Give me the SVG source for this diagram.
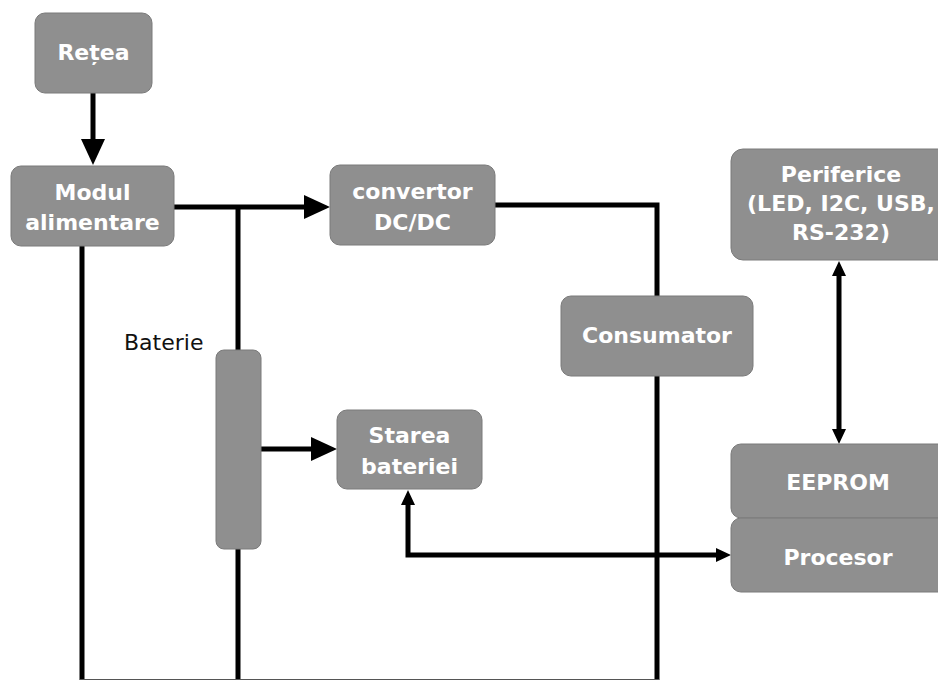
<svg xmlns="http://www.w3.org/2000/svg" width="938" height="680" viewBox="0 0 938 680">
  <style>
    .box { fill: #8f8f8f; stroke: #7a7a7a; stroke-width: 1; }
    .lbl { font-family: "DejaVu Sans", "Liberation Sans", sans-serif; font-weight: bold; font-size: 22px; fill: #ffffff; text-anchor: middle; }
    .plain { font-family: "DejaVu Sans", "Liberation Sans", sans-serif; font-size: 22px; fill: #111111; }
    .wire { fill: none; stroke: #000000; stroke-width: 5; stroke-linejoin: miter; }
    .thin { fill: none; stroke: #555555; stroke-width: 1; }
  </style>
  <defs>
    <marker id="big" markerUnits="userSpaceOnUse" markerWidth="28" markerHeight="26" refX="0" refY="12" orient="auto-start-reverse">
      <path d="M0,0 L26,12 L0,24 z" fill="#000"/>
    </marker>
    <marker id="small" markerUnits="userSpaceOnUse" markerWidth="17" markerHeight="15" refX="0" refY="7" orient="auto-start-reverse">
      <path d="M0,0 L15,7 L0,14 z" fill="#000"/>
    </marker>
  </defs>
  <rect width="938" height="680" fill="#ffffff"/>

  <!-- connectors -->
  <g id="connectors">
    <path class="wire" d="M93,93 V139" marker-end="url(#big)"/>
    <path class="wire" d="M174,207 H304" marker-end="url(#big)"/>
    <path class="wire" d="M238,207 V350"/>
    <path class="wire" d="M238,549 V680"/>
    <path class="wire" d="M82,246 V680"/>
    <path class="wire" d="M495,205 H657 V296"/>
    <path class="wire" d="M657,376 V680"/>
    <path class="wire" d="M261,449 H311" marker-end="url(#big)"/>
    <path class="wire" d="M408,505 V555 H716" marker-start="url(#small)" marker-end="url(#small)"/>
    <path class="wire" d="M839,276 V429" marker-start="url(#small)" marker-end="url(#small)"/>
    <path class="thin" d="M80,679.5 H659"/>
  </g>

  <g id="retea">
    <rect class="box" x="35" y="13" width="117" height="80" rx="10"/>
    <text class="lbl" x="93.5" y="60">Rețea</text>
  </g>

  <g id="modul-alimentare">
    <rect class="box" x="11" y="166" width="163" height="80" rx="10"/>
    <text class="lbl" x="92.5" y="200">Modul</text>
    <text class="lbl" x="92.5" y="230">alimentare</text>
  </g>

  <g id="convertor">
    <rect class="box" x="330" y="165" width="165" height="80" rx="10"/>
    <text class="lbl" x="412.5" y="199">convertor</text>
    <text class="lbl" x="412.5" y="230">DC/DC</text>
  </g>

  <g id="consumator">
    <rect class="box" x="561" y="296" width="192" height="80" rx="10"/>
    <text class="lbl" x="657" y="343">Consumator</text>
  </g>

  <g id="baterie">
    <text class="plain" x="124" y="350">Baterie</text>
    <rect class="box" x="216" y="350" width="45" height="199" rx="8"/>
  </g>

  <g id="starea-bateriei">
    <rect class="box" x="337" y="410" width="145" height="79" rx="10"/>
    <text class="lbl" x="409.5" y="443">Starea</text>
    <text class="lbl" x="409.5" y="474">bateriei</text>
  </g>

  <g id="periferice">
    <rect class="box" x="731" y="149" width="220" height="111" rx="12"/>
    <text class="lbl" x="841" y="182">Periferice</text>
    <text class="lbl" x="841" y="211">(LED, I2C, USB,</text>
    <text class="lbl" x="841" y="240">RS-232)</text>
  </g>

  <g id="eeprom">
    <rect class="box" x="731" y="444" width="220" height="74" rx="10"/>
    <text class="lbl" x="838" y="490">EEPROM</text>
  </g>

  <g id="procesor">
    <rect class="box" x="731" y="518" width="220" height="74" rx="10"/>
    <text class="lbl" x="838" y="565">Procesor</text>
  </g>
</svg>
